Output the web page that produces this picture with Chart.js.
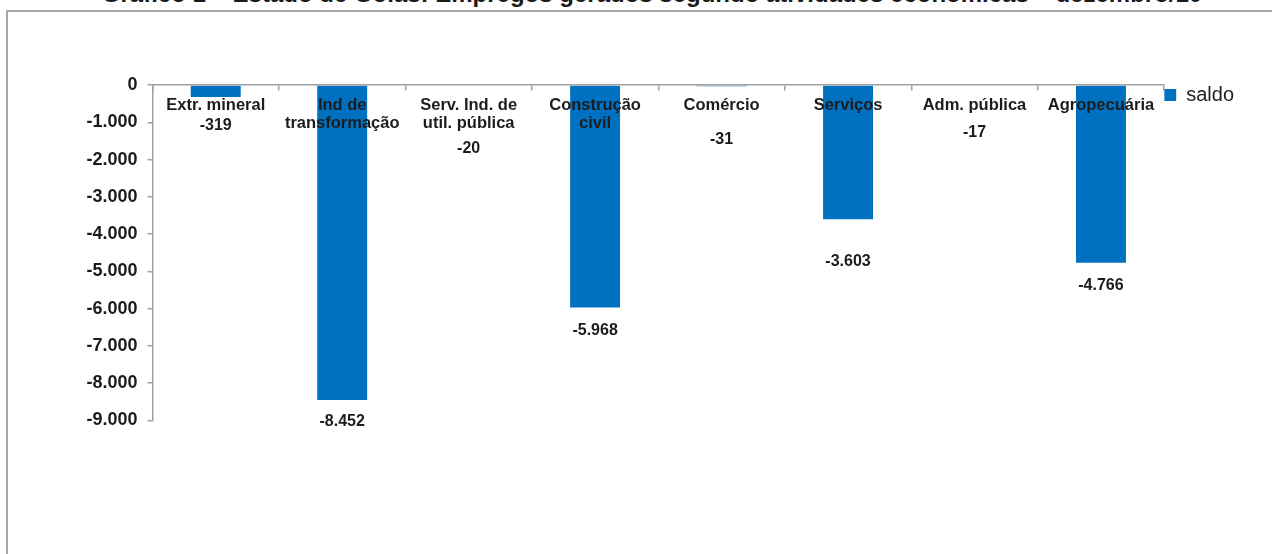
<!DOCTYPE html>
<html><head><meta charset="utf-8">
<script src="https://cdn.jsdelivr.net/npm/chart.js@4/dist/chart.umd.min.js"></script>
<style>
html,body{margin:0;padding:0;width:1272px;height:554px;overflow:hidden;background:#fff;}
#frame{position:absolute;left:6px;top:10px;width:1400px;height:700px;border:2px solid #a6a6a6;box-sizing:border-box;}
#title{position:absolute;left:0;top:-18.5px;width:1304px;text-align:center;font:bold 24px "Liberation Sans",Arial,sans-serif;line-height:24px;color:#1a1a1a;white-space:nowrap;}
#wrap{position:absolute;left:0;top:0;width:1272px;height:554px;}
</style></head><body>
<div id="title">Gráfico 1 – Estado de Goiás: Empregos gerados segundo atividades econômicas – dezembro/10</div>
<div id="frame"></div>
<div id="wrap"><canvas id="c" width="1272" height="554"></canvas></div>
<script>
const categories = [
  'Extr. mineral',
  ['Ind de', 'transformação'],
  ['Serv. Ind. de', 'util. pública'],
  ['Construção', 'civil'],
  'Comércio',
  'Serviços',
  'Adm. pública',
  'Agropecuária'
];
const seriesName = 'saldo';
const saldo = [-319, -8452, -20, -5968, -31, -3603, -17, -4766];
const yTicks = [0, -1000, -2000, -3000, -4000, -5000, -6000, -7000, -8000, -9000];

function fmt(v) {
  const s = Math.abs(v).toString().replace(/\B(?=(\d{3})+(?!\d))/g, '.');
  return (v < 0 ? '-' : '') + s;
}

const FONT = '"Liberation Sans", Arial, sans-serif';
const TEXT = '#1c1c1c';
const AXIS = '#a0a0a0';
const BLUE = '#0070C0';

const valueLabels = {
  id: 'valueLabels',
  afterDatasetsDraw(chart, args, opts) {
    const ctx = chart.ctx;
    const meta = chart.getDatasetMeta(0);
    ctx.save();
    ctx.font = 'bold 16px ' + FONT;
    ctx.fillStyle = TEXT;
    ctx.textAlign = 'center';
    ctx.textBaseline = 'middle';
    meta.data.forEach((bar, i) => {
      const v = chart.data.datasets[0].data[i];
      const off = opts.offsets[i] || 22;
      ctx.fillText(fmt(v), bar.x, bar.y + off);
    });
    ctx.restore();
  }
};

new Chart(document.getElementById('c'), {
  type: 'bar',
  data: {
    labels: categories,
    datasets: [{
      label: seriesName,
      data: saldo,
      backgroundColor: BLUE,
      borderWidth: 0,
      categoryPercentage: 1,
      barPercentage: 0.395
    }]
  },
  options: {
    responsive: false,
    devicePixelRatio: 1,
    animation: false,
    layout: { padding: { left: 0, right: 28, top: 85, bottom: 133.5 } },
    plugins: {
      title: { display: false },
      tooltip: { enabled: false },
      legend: {
        position: 'right',
        align: 'start',
        labels: {
          boxWidth: 12,
          boxHeight: 12,
          padding: 0,
          color: '#222',
          font: { family: FONT, size: 20 }
        }
      },
      valueLabels: { offsets: [29, 22, 63, 23, 53, 42, 47, 23] }
    },
    scales: {
      x: {
        position: { y: 0 },
        offset: true,
        grid: { offset: true, drawOnChartArea: false, drawTicks: true, tickLength: 5, color: AXIS, lineWidth: 1.5, z: 1 },
        border: { display: true, color: AXIS, width: 1.5, z: 1 },
        ticks: {
          z: 2,
          autoSkip: false,
          maxRotation: 0,
          minRotation: 0,
          padding: 6,
          color: TEXT,
          font: { family: FONT, size: 16.5, weight: 'bold', lineHeight: 1.1 }
        }
      },
      y: {
        min: -9000,
        max: 0,
        afterFit(scale) { scale.width = 152.5; },
        afterBuildTicks(scale) { scale.ticks = yTicks.map(v => ({ value: v })); },
        grid: { drawOnChartArea: false, drawTicks: true, tickLength: 5, color: AXIS, lineWidth: 1.5 },
        border: { display: true, color: AXIS, width: 1.5 },
        ticks: {
          padding: 10,
          color: TEXT,
          font: { family: FONT, size: 18, weight: 'bold' },
          callback: (v) => fmt(v)
        }
      }
    }
  },
  plugins: [valueLabels]
});
</script>
</body></html>
